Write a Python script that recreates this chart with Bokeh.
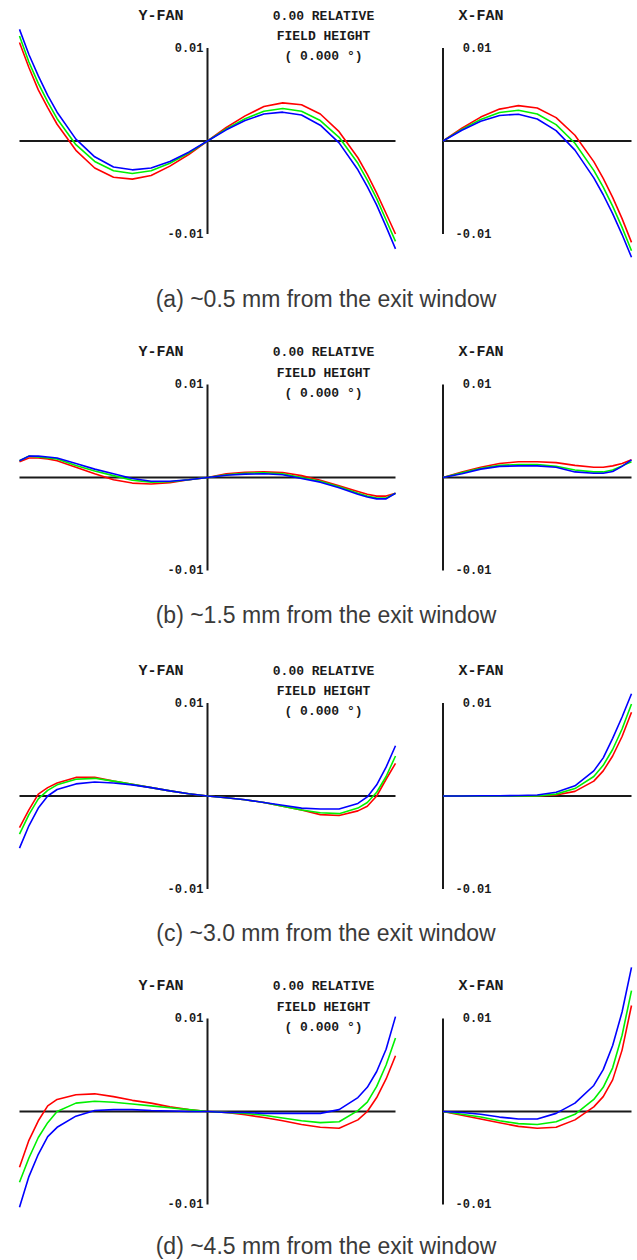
from bokeh.plotting import figure
from bokeh.models import Range1d
from bokeh.core.properties import value
from bokeh.embed import file_html
from bokeh.resources import INLINE

# ---------------- data ----------------
# normalized pupil coordinates
yfan_px = [-1, -0.95, -0.9, -0.85, -0.8, -0.7, -0.6, -0.5, -0.4, -0.3, -0.2, -0.1, 0,
           0.1, 0.2, 0.3, 0.4, 0.5, 0.6, 0.7, 0.8, 0.85, 0.9, 0.95, 1]
xfan_px = [0, 0.1, 0.2, 0.3, 0.4, 0.5, 0.6, 0.7, 0.8, 0.85, 0.9, 0.95, 1]

panel_ids = ["a", "b", "c", "d"]
captions = ["(a) ~0.5 mm from the exit window",
            "(b) ~1.5 mm from the exit window",
            "(c) ~3.0 mm from the exit window",
            "(d) ~4.5 mm from the exit window"]
tick_values = [0.01, -0.01]
tick_labels = ["0.01", "-0.01"]
field_text = ["0.00 RELATIVE", "FIELD HEIGHT", "( 0.000 \u00b0)"]

# (a) ~0.5 mm
yfan_a_red = [0.0106, 0.0079, 0.0055, 0.0036, 0.0018, -0.0010, -0.0029, -0.0039, -0.0041, -0.0037, -0.0027, -0.00145, 0,
              0.00145, 0.0027, 0.0037, 0.0041, 0.0039, 0.0029, 0.0010, -0.0018, -0.0036, -0.0056, -0.0078, -0.0100]
yfan_a_green = [0.0113, 0.0085, 0.0062, 0.0042, 0.0024, -0.0004, -0.0022, -0.0032, -0.0035, -0.0032, -0.0024, -0.0013, 0,
                0.0013, 0.0024, 0.0032, 0.0035, 0.0032, 0.0022, 0.0004, -0.0024, -0.0042, -0.0062, -0.0085, -0.0108]
yfan_a_blue = [0.0120, 0.0093, 0.0070, 0.0049, 0.0031, 0.0002, -0.0017, -0.0028, -0.0031, -0.0029, -0.0022, -0.0012, 0,
               0.0012, 0.0022, 0.0029, 0.0031, 0.0028, 0.0017, -0.0002, -0.0031, -0.0049, -0.0069, -0.0092, -0.0116]
xfan_a_red = [0, 0.00137, 0.00257, 0.00343, 0.0038, 0.00354, 0.00251, 0.00062, -0.00222, -0.00401, -0.00606, -0.00835, -0.0109]
xfan_a_green = [0, 0.00125, 0.00232, 0.00306, 0.0033, 0.00291, 0.00176, -0.00024, -0.00316, -0.00496, -0.00701, -0.00929, -0.0118]
xfan_a_blue = [0, 0.00115, 0.00212, 0.00275, 0.00288, 0.00237, 0.00111, -0.00098, -0.00396, -0.00578, -0.00781, -0.01006, -0.0125]

# (b) ~1.5 mm
yfan_b_red = [0.0017, 0.0021, 0.0021, 0.0020, 0.0018, 0.0011, 0.0004, -0.00025, -0.0006, -0.0007, -0.00055, -0.00025, 0,
              0.0004, 0.00057, 0.0006, 0.00054, 0.0002, -0.0003, -0.0009, -0.0015, -0.0018, -0.0020, -0.0020, -0.0017]
yfan_b_green = [0.0018, 0.0023, 0.0022, 0.0021, 0.0020, 0.0013, 0.0007, 0.0002, -0.0003, -0.0005, -0.00045, -0.00025, 0,
                0.0003, 0.00045, 0.0005, 0.0004, 0.0, -0.0004, -0.0010, -0.0017, -0.0020, -0.0022, -0.0022, -0.0017]
yfan_b_blue = [0.0018, 0.0023, 0.0023, 0.0022, 0.0021, 0.0015, 0.0009, 0.0004, -0.0001, -0.0004, -0.0004, -0.00025, 0,
               0.00025, 0.00036, 0.0004, 0.0003, -0.0001, -0.0005, -0.0011, -0.0018, -0.0021, -0.0023, -0.0023, -0.0017]
xfan_b_red = [0, 0.0006, 0.0011, 0.0015, 0.0017, 0.0017, 0.0016, 0.0013, 0.0011, 0.0011, 0.00125, 0.0015, 0.0019]
xfan_b_green = [0, 0.0005, 0.0010, 0.0013, 0.0014, 0.0014, 0.0012, 0.0008, 0.0006, 0.0006, 0.0008, 0.00125, 0.0017]
xfan_b_blue = [0, 0.0004, 0.0009, 0.0012, 0.00125, 0.00125, 0.0011, 0.0006, 0.00045, 0.00045, 0.00065, 0.0012, 0.0019]

# (c) ~3.0 mm
yfan_c_red = [-0.0034, -0.0015, 0.0002, 0.0009, 0.0014, 0.0020, 0.0020, 0.0016, 0.00125, 0.0009, 0.00055, 0.00025, 0,
              -0.00018, -0.0004, -0.0007, -0.0011, -0.0015, -0.0020, -0.0021, -0.0016, -0.0011, 0.0000, 0.0018, 0.0035]
yfan_c_green = [-0.0041, -0.0020, -0.0003, 0.0006, 0.0012, 0.0018, 0.0019, 0.0016, 0.00125, 0.0009, 0.00055, 0.00025, 0,
                -0.00018, -0.0004, -0.0007, -0.0011, -0.0015, -0.0018, -0.0019, -0.0013, -0.0007, 0.0004, 0.0021, 0.0043]
yfan_c_blue = [-0.0056, -0.0032, -0.0013, 0.0000, 0.0007, 0.0013, 0.0015, 0.0014, 0.0012, 0.0009, 0.00055, 0.00025, 0,
               -0.00018, -0.0004, -0.0007, -0.0010, -0.0013, -0.0014, -0.0014, -0.0008, -0.0001, 0.0012, 0.0031, 0.0054]
xfan_c_red = [0, 0, 0, 0, 0, 0, 0.0001, 0.0005, 0.0016, 0.0027, 0.0043, 0.0064, 0.0090]
xfan_c_green = [0, 0, 0, 0, 0, 0, 0.0002, 0.0008, 0.0021, 0.0033, 0.0050, 0.0072, 0.0099]
xfan_c_blue = [0, 0, 0.00003, 0.00003, 0.00005, 0.0001, 0.0004, 0.0011, 0.0027, 0.0041, 0.0062, 0.0085, 0.0110]

# (d) ~4.5 mm
yfan_d_red = [-0.0060, -0.0031, -0.0010, 0.0006, 0.0013, 0.0018, 0.0019, 0.0016, 0.0012, 0.0009, 0.0005, 0.0002, 0,
              -0.0001, -0.00035, -0.00065, -0.0010, -0.0014, -0.0017, -0.0018, -0.0009, 0.0000, 0.0015, 0.0035, 0.0060]
yfan_d_green = [-0.0076, -0.0050, -0.0028, -0.0012, 0.0000, 0.0009, 0.0011, 0.0010, 0.0008, 0.0006, 0.0004, 0.0002, 0,
                -0.0001, -0.0002, -0.0004, -0.0007, -0.0010, -0.0012, -0.0011, 0.0001, 0.0010, 0.0027, 0.0050, 0.0079]
yfan_d_blue = [-0.0103, -0.0070, -0.0046, -0.0027, -0.0017, -0.0005, 0.0001, 0.0002, 0.0002, 0.0001, 0.00005, 0.0, 0,
               -0.0001, -0.0001, -0.0002, -0.0002, -0.0002, -0.0002, 0.0002, 0.0015, 0.0026, 0.0043, 0.0067, 0.0102]
xfan_d_red = [0, -0.0004, -0.0008, -0.0012, -0.0016, -0.0018, -0.0017, -0.0009, 0.0005, 0.0016, 0.0034, 0.0066, 0.0114]
xfan_d_green = [0, -0.0003, -0.0006, -0.0010, -0.0013, -0.0014, -0.0011, -0.0003, 0.0013, 0.0026, 0.0047, 0.0082, 0.0130]
xfan_d_blue = [0, -0.0001, -0.0003, -0.0006, -0.0008, -0.0008, -0.0002, 0.0009, 0.0028, 0.0045, 0.0071, 0.0107, 0.0155]

yfan_series = {
    "a": [yfan_a_red, yfan_a_green, yfan_a_blue],
    "b": [yfan_b_red, yfan_b_green, yfan_b_blue],
    "c": [yfan_c_red, yfan_c_green, yfan_c_blue],
    "d": [yfan_d_red, yfan_d_green, yfan_d_blue],
}
xfan_series = {
    "a": [xfan_a_red, xfan_a_green, xfan_a_blue],
    "b": [xfan_b_red, xfan_b_green, xfan_b_blue],
    "c": [xfan_c_red, xfan_c_green, xfan_c_blue],
    "d": [xfan_d_red, xfan_d_green, xfan_d_blue],
}
curve_colors = ["#ff0000", "#00f000", "#0000ff"]

# ---------------- layout (pixels) ----------------
W, H = 637, 1260
YF_X0, YF_SCALE = 207.0, 188.0      # x of Y-FAN origin, px per pupil unit
XF_X0, XF_SCALE = 442.5, 188.5      # x of X-FAN origin, px per pupil unit
PANEL_Y0 = [140.5, 477.0, 795.5, 1111.0]   # y (from top) of each panel's zero line
CAPTION_DY = [157.5, 137.5, 137.0, 134.0]
AB_SCALE = 93.0 / 0.01             # px per unit of ray aberration

mono = value("Liberation Mono")
sans = value("Liberation Sans")
ink = "#1a1a1a"

p = figure(width=W, height=H, output_backend="svg", toolbar_location=None,
           x_axis_type=None, y_axis_type=None, min_border=0,
           x_range=Range1d(-YF_X0 / YF_SCALE, (W - YF_X0) / YF_SCALE),
           y_range=Range1d(0, H))
p.outline_line_color = None
p.background_fill_color = "white"
p.border_fill_color = "white"

p.extra_x_ranges = {"xfan": Range1d(-XF_X0 / XF_SCALE, (W - XF_X0) / XF_SCALE)}
for pid, yc in zip(panel_ids, PANEL_Y0):
    fyc = H - yc
    p.extra_y_ranges[pid] = Range1d(-fyc / AB_SCALE, (H - fyc) / AB_SCALE)


def txt(x, y, s, xr, yr, font, size, align, dx, dy, style="bold", color=ink):
    p.text(x=[x], y=[y], text=[s], x_range_name=xr, y_range_name=yr,
           text_font=font, text_font_size=size, text_font_style=style,
           text_align=align, text_baseline="alphabetic", text_color=color,
           x_offset=dx, y_offset=dy)


for i, pid in enumerate(panel_ids):
    # axes lines
    p.line([yfan_px[0], yfan_px[-1]], [0, 0], y_range_name=pid, line_color=ink, line_width=2)
    p.line([0, 0], tick_values, y_range_name=pid, line_color=ink, line_width=2)
    p.line([xfan_px[0], xfan_px[-1]], [0, 0], x_range_name="xfan", y_range_name=pid,
           line_color=ink, line_width=2)
    p.line([0, 0], tick_values, x_range_name="xfan", y_range_name=pid, line_color=ink, line_width=2)

    # curves
    for ys, c in zip(yfan_series[pid], curve_colors):
        p.line(yfan_px, ys, y_range_name=pid, line_color=c, line_width=1.6, line_join="round")
    for ys, c in zip(xfan_series[pid], curve_colors):
        p.line(xfan_px, ys, x_range_name="xfan", y_range_name=pid, line_color=c,
               line_width=1.6, line_join="round")

    # labels
    txt(0, 0, "Y-FAN", "default", pid, mono, "15px", "center", -46.5, -125.0)
    txt(0, 0, "X-FAN", "xfan", pid, mono, "15px", "center", 38.0, -125.0)
    for s, dy in zip(field_text, [-125.0, -104.5, -84.5]):
        txt(0, 0, s, "default", pid, mono, "13px", "center", 116.0, dy)
    for tv, tl in zip(tick_values, tick_labels):
        txt(0, tv, tl, "default", pid, mono, "12px", "right", -4.0, -1.0)
        txt(0, tv, tl, "xfan", pid, mono, "12px", "right", 48.5, -1.0)

    # caption
    txt(0, 0, captions[i], "default", pid, sans, "23px", "center", 118.5, CAPTION_DY[i],
        style="normal", color="#3a3a3a")

open("out.html", "w").write(file_html(p, INLINE))
